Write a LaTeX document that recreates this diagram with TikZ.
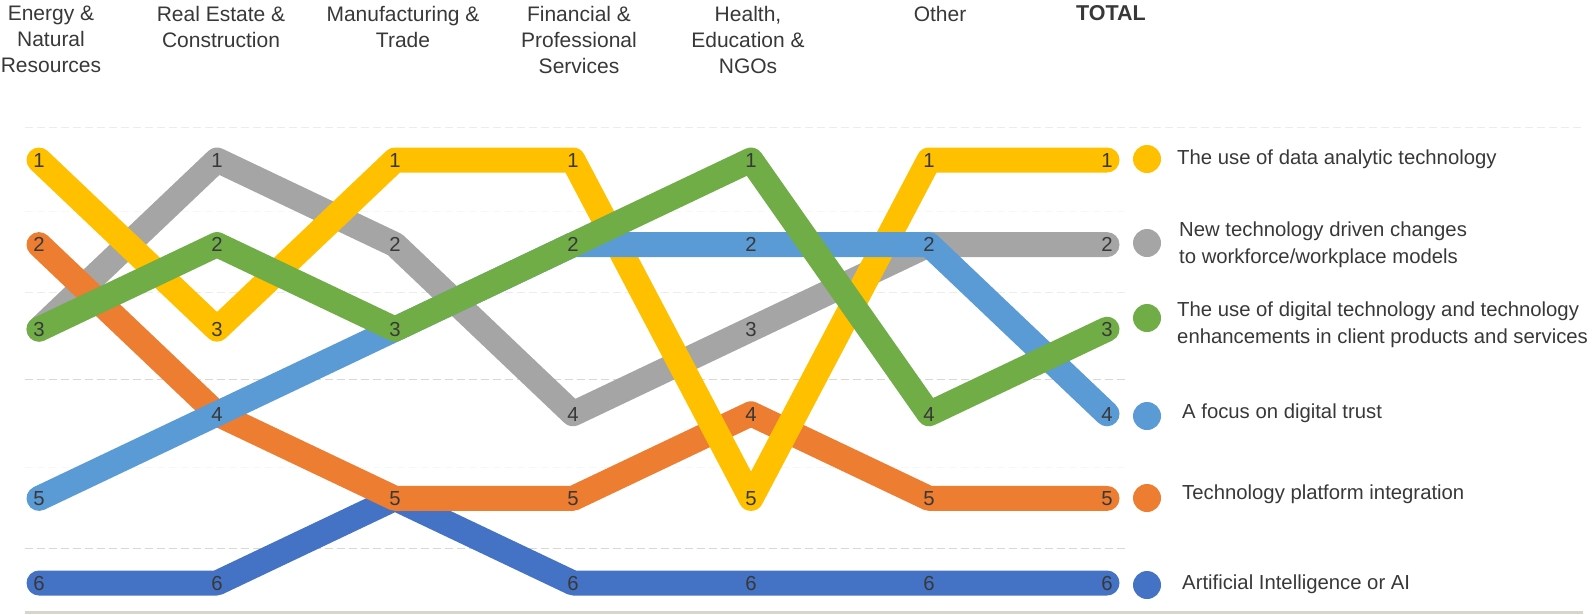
\documentclass[tikz,border=0pt]{standalone}
\usepackage{fontspec}
\setmainfont{Liberation Sans}
\definecolor{cY}{HTML}{FFC000}
\definecolor{cGr}{HTML}{A5A5A5}
\definecolor{cG}{HTML}{70AD47}
\definecolor{cB}{HTML}{5B9BD5}
\definecolor{cO}{HTML}{ED7D31}
\definecolor{cDB}{HTML}{4472C4}
\definecolor{txt}{HTML}{383838}
\definecolor{gridA}{HTML}{DAD8D0}
\definecolor{gridB}{HTML}{ECECEC}
\definecolor{gridC}{HTML}{F7F7F7}
\definecolor{axisc}{HTML}{D8D5CA}
\begin{document}
\begin{tikzpicture}[x=1pt,y=-1pt,
  series/.style={line width=25pt,line cap=round,line join=round},
  lab/.style={text=txt,font=\fontsize{20.3}{24}\selectfont,inner sep=0pt,text height=14.5pt,text depth=0pt},
  head/.style={text=txt,font=\fontsize{21}{25.8}\selectfont,inner sep=0pt,align=center,anchor=north},
  legtext/.style={text=txt,font=\fontsize{20.3}{24}\selectfont,inner sep=0pt,text height=14.5pt,text depth=0pt,anchor=west},
  legdot/.style={circle,inner sep=0pt,minimum size=28pt},
  gridline/.style={line width=1pt,dash pattern=on 8pt off 4pt}]
\useasboundingbox (0,0) rectangle (1594,614);

% gridlines
\coordinate (g1a) at (25,127); \coordinate (g1b) at (1583,127);
\coordinate (g2a) at (25,211); \coordinate (g2b) at (1125,211);
\coordinate (g3a) at (25,292); \coordinate (g3b) at (1125,292);
\coordinate (g4a) at (25,379); \coordinate (g4b) at (1125,379);
\coordinate (g5a) at (25,467); \coordinate (g5b) at (1125,467);
\coordinate (g6a) at (25,548); \coordinate (g6b) at (1125,548);
\draw[gridline,gridB] (g1a) -- (g1b);
\draw[gridline,gridC] (g2a) -- (g2b);
\draw[gridline,gridB] (g3a) -- (g3b);
\draw[gridline,gridA] (g4a) -- (g4b);
\draw[gridline,gridC] (g5a) -- (g5b);
\draw[gridline,gridA] (g6a) -- (g6b);
\coordinate (ax1) at (25,612.5); \coordinate (ax2) at (1583,612.5);
\draw[axisc,line width=2.5pt] (ax1) -- (ax2);

% data points
\foreach \c in {1,...,7}{
  \foreach \r in {1,...,6}{
    \coordinate (p-\c-\r) at ({39+178*(\c-1)},{160+84.6*(\r-1)});
  }
}

% series (bottom to top)
\draw[series,cDB] (p-1-6) -- (p-2-6) -- (p-3-5) -- (p-4-6) -- (p-5-6) -- (p-6-6) -- (p-7-6);
\draw[series,cGr] (p-1-3) -- (p-2-1) -- (p-3-2) -- (p-4-4) -- (p-5-3) -- (p-6-2) -- (p-7-2);
\draw[series,cO] (p-1-2) -- (p-2-4) -- (p-3-5) -- (p-4-5) -- (p-5-4) -- (p-6-5) -- (p-7-5);
\draw[series,cY] (p-1-1) -- (p-2-3) -- (p-3-1) -- (p-4-1) -- (p-5-5) -- (p-6-1) -- (p-7-1);
\draw[series,cB] (p-1-5) -- (p-2-4) -- (p-3-3) -- (p-4-2) -- (p-5-2) -- (p-6-2) -- (p-7-4);
\draw[series,cG] (p-1-3) -- (p-2-2) -- (p-3-3) -- (p-4-2) -- (p-5-1) -- (p-6-4) -- (p-7-3);

% value labels
\foreach \c/\r in {1/1,1/2,1/3,1/5,1/6,
                   2/1,2/2,2/3,2/4,2/6,
                   3/1,3/2,3/3,3/5,
                   4/1,4/2,4/4,4/5,4/6,
                   5/1,5/2,5/3,5/4,5/5,5/6,
                   6/1,6/2,6/4,6/5,6/6,
                   7/1,7/2,7/3,7/4,7/5,7/6}{
  \node[lab] (l-\c-\r) at (p-\c-\r) {\r};
}

% headers
\node[head] (h1) at (51,6) {Energy \&\\Natural\\Resources};
\node[head] (h2) at (221,6) {Real Estate \&\\Construction};
\node[head] (h3) at (403,6) {Manufacturing \&\\Trade};
\node[head] (h4) at (579,6) {Financial \&\\Professional\\Services};
\node[head] (h5) at (748,6) {Health,\\Education \&\\NGOs};
\node[head] (h6) at (940,6) {Other};
\node[head,font=\fontsize{21.5}{25.8}\selectfont\bfseries] (h7) at (1111,5) {TOTAL};

% legend
\node[legdot,fill=cY] (k1) at (1147,159) {};
\node[legdot,fill=cGr] (k2) at (1147,243) {};
\node[legdot,fill=cG] (k3) at (1147,318) {};
\node[legdot,fill=cB] (k4) at (1147,416) {};
\node[legdot,fill=cO] (k5) at (1147,498) {};
\node[legdot,fill=cDB] (k6) at (1147,585) {};
\node[legtext] (t1) at (1177,157) {The use of data analytic technology};
\node[legtext] (t2a) at (1179,229) {New technology driven changes};
\node[legtext] (t2b) at (1179,256) {to workforce/workplace models};
\node[legtext] (t3a) at (1177,309) {The use of digital technology and technology};
\node[legtext] (t3b) at (1177,336) {enhancements in client products and services};
\node[legtext] (t4) at (1182,411) {A focus on digital trust};
\node[legtext] (t5) at (1182,492) {Technology platform integration};
\node[legtext] (t6) at (1182,582) {Artificial Intelligence or AI};
\end{tikzpicture}
\end{document}
